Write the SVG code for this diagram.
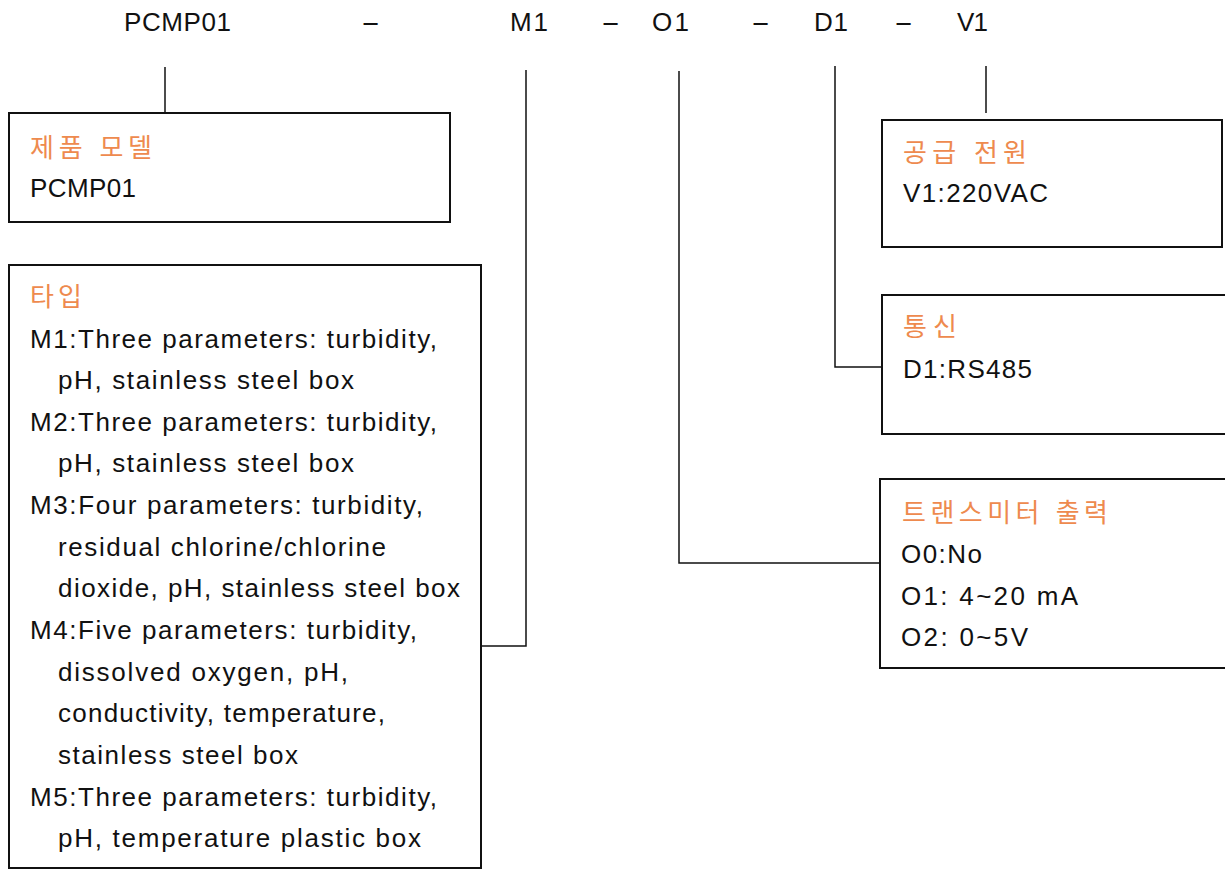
<svg xmlns="http://www.w3.org/2000/svg" width="1225" height="871" viewBox="0 0 1225 871">
<style>
text{font-family:"Liberation Sans","Noto Sans CJK KR",sans-serif;font-size:26px;fill:#111}
.t{fill:#EE8A4E;font-size:26px}
.d{font-size:24px}
.box{fill:#fff;stroke:#111;stroke-width:2}
.ln{fill:none;stroke:#111;stroke-width:1.5}
</style>
<rect width="1225" height="871" fill="#fff"/>
<g id="header">
<text x="124" y="31" textLength="107" lengthAdjust="spacing">PCMP01</text>
<text class="d" transform="translate(361 30) scale(2.4 1)">-</text>
<text x="510" y="31" textLength="38" lengthAdjust="spacing">M1</text>
<text class="d" transform="translate(601 30) scale(2.4 1)">-</text>
<text x="652" y="31" textLength="37" lengthAdjust="spacing">O1</text>
<text class="d" transform="translate(751 30) scale(2.4 1)">-</text>
<text x="814" y="31" textLength="34" lengthAdjust="spacing">D1</text>
<text class="d" transform="translate(894 30) scale(2.4 1)">-</text>
<text x="957" y="31" textLength="31" lengthAdjust="spacing">V1</text>
</g>
<g id="connectors">
<path class="ln" d="M165 67V113"/>
<path class="ln" d="M526 70V646H481"/>
<path class="ln" d="M679 71V563H884"/>
<path class="ln" d="M835 66V367H884"/>
<path class="ln" d="M986 66V113"/>
</g>
<g id="model">
<rect class="box" x="9" y="113" width="441" height="109"/>
<text class="t" x="30" y="157" textLength="122" lengthAdjust="spacing">제품 모델</text>
<text x="30" y="197" textLength="106" lengthAdjust="spacing">PCMP01</text>
</g>
<g id="type">
<rect class="box" x="9" y="265" width="472" height="603"/>
<text class="t" x="30" y="306" textLength="52" lengthAdjust="spacing">타입</text>
<text x="30" y="348" textLength="407" lengthAdjust="spacing">M1:Three parameters: turbidity,</text>
<text x="58" y="389" textLength="296" lengthAdjust="spacing">pH, stainless steel box</text>
<text x="30" y="431" textLength="407" lengthAdjust="spacing">M2:Three parameters: turbidity,</text>
<text x="58" y="472" textLength="296" lengthAdjust="spacing">pH, stainless steel box</text>
<text x="30" y="514" textLength="393" lengthAdjust="spacing">M3:Four parameters: turbidity,</text>
<text x="58" y="556" textLength="328" lengthAdjust="spacing">residual chlorine/chlorine</text>
<text x="58" y="597" textLength="402" lengthAdjust="spacing">dioxide, pH, stainless steel box</text>
<text x="30" y="639" textLength="387" lengthAdjust="spacing">M4:Five parameters: turbidity,</text>
<text x="58" y="681" textLength="290" lengthAdjust="spacing">dissolved oxygen, pH,</text>
<text x="58" y="722" textLength="327" lengthAdjust="spacing">conductivity, temperature,</text>
<text x="58" y="764" textLength="240" lengthAdjust="spacing">stainless steel box</text>
<text x="30" y="806" textLength="407" lengthAdjust="spacing">M5:Three parameters: turbidity,</text>
<text x="58" y="847" textLength="363" lengthAdjust="spacing">pH, temperature plastic box</text>
</g>
<g id="power">
<rect class="box" x="882" y="120" width="340" height="127"/>
<text class="t" x="903" y="162" textLength="124" lengthAdjust="spacing">공급 전원</text>
<text x="903" y="202" textLength="145" lengthAdjust="spacing">V1:220VAC</text>
</g>
<g id="comm">
<rect class="box" x="882" y="295" width="360" height="139"/>
<text class="t" x="903" y="336" textLength="54" lengthAdjust="spacing">통신</text>
<text x="903" y="378" textLength="129" lengthAdjust="spacing">D1:RS485</text>
</g>
<g id="output">
<rect class="box" x="880" y="479" width="360" height="189"/>
<text class="t" x="902" y="522" textLength="206" lengthAdjust="spacing">트랜스미터 출력</text>
<text x="901" y="563" textLength="81" lengthAdjust="spacing">O0:No</text>
<text x="901" y="605" textLength="177" lengthAdjust="spacing">O1: 4~20 mA</text>
<text x="901" y="646" textLength="127" lengthAdjust="spacing">O2: 0~5V</text>
</g>
</svg>
